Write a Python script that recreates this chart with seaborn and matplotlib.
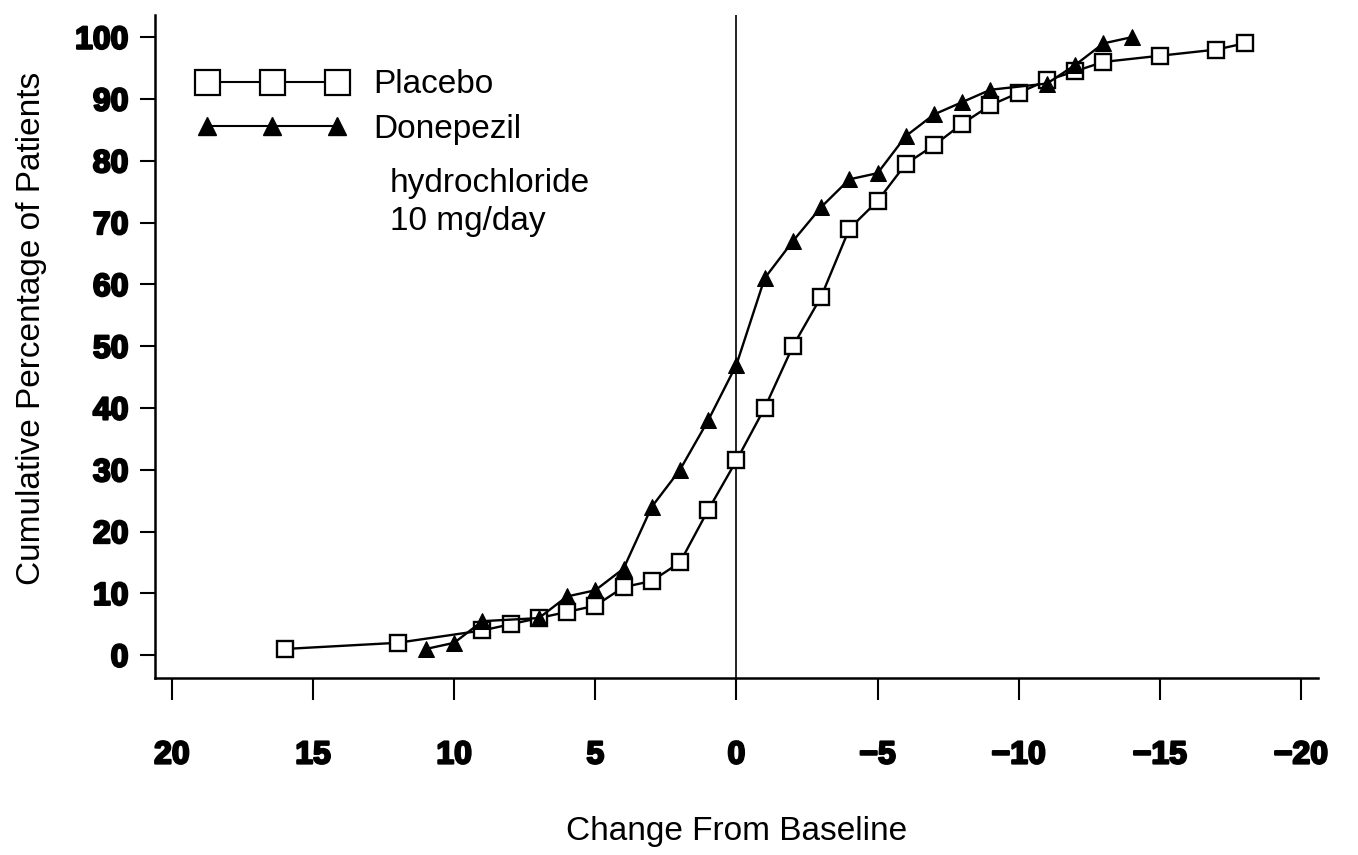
import matplotlib
matplotlib.use('Agg')
import matplotlib.pyplot as plt
import matplotlib.patheffects as pe
from matplotlib.lines import Line2D
import seaborn as sns

# change from baseline (x) and cumulative percentage of patients (y)
placebo_change = [16, 12, 9, 8, 7, 6, 5, 4, 3, 2, 1, 0, -1, -2, -3, -4, -5, -6, -7,
                  -8, -9, -10, -11, -12, -13, -15, -17, -18]
placebo_pct = [1, 2, 4, 5, 6, 7, 8, 11, 12, 15, 23.5, 31.5, 40, 50, 58, 69, 73.5, 79.5,
               82.5, 86, 89, 91, 93, 94.5, 96, 97, 98, 99]

donepezil_change = [11, 10, 9, 7, 6, 5, 4, 3, 2, 1, 0, -1, -2, -3, -4, -5, -6, -7, -8,
                    -9, -11, -12, -13, -14]
donepezil_pct = [1, 2, 5.5, 6, 9.5, 10.5, 14, 24, 30, 38, 47, 61, 67, 72.5, 77, 78, 84,
                 87.5, 89.5, 91.5, 92.5, 95.5, 99, 100]

x_ticks = [20, 15, 10, 5, 0, -5, -10, -15, -20]
y_ticks = [0, 10, 20, 30, 40, 50, 60, 70, 80, 90, 100]

sns.set_style('ticks')
plt.rcParams['font.family'] = ['Liberation Sans', 'DejaVu Sans']
plt.rcParams.update({'text.color': 'black', 'axes.labelcolor': 'black',
                     'xtick.color': 'black', 'ytick.color': 'black',
                     'axes.edgecolor': 'black'})

fig = plt.figure(figsize=(13.58, 8.55), dpi=100)
ax = fig.add_axes([0.1141, 0.207, 0.8564, 0.7755])

# vertical reference line at zero change
ax.axvline(0, color='black', linewidth=1.2, zorder=1)

sns.lineplot(x=placebo_change, y=placebo_pct, ax=ax, color='black', linewidth=1.7,
             marker='s', markersize=12, markerfacecolor='white',
             markeredgecolor='black', markeredgewidth=1.7, zorder=3)
sns.lineplot(x=donepezil_change, y=donepezil_pct, ax=ax, color='black', linewidth=1.7,
             marker='^', markersize=12, markerfacecolor='black',
             markeredgecolor='black', zorder=4)

ax.set_xlim(20.6, -20.6)
ax.set_ylim(-3.7, 103.6)
ax.set_xticks(x_ticks)
ax.set_yticks(y_ticks)
heavy = [pe.withStroke(linewidth=1.6, foreground='black')]
ax.set_xticklabels([str(v).replace('-', '\u2212') for v in x_ticks],
                   fontweight='bold', fontsize=23, path_effects=heavy)
ax.set_yticklabels([str(v) for v in y_ticks],
                   fontweight='bold', fontsize=23, path_effects=heavy)
ax.tick_params(axis='x', length=16, width=1.5, pad=29)
ax.tick_params(axis='y', length=11, width=1.5, pad=8)

sns.despine(ax=ax)
for side in ['left', 'bottom']:
    ax.spines[side].set_linewidth(1.8)

ax.set_xlabel('Change From Baseline', fontsize=24)
ax.set_ylabel('Cumulative Percentage of Patients', fontsize=24)
ax.xaxis.set_label_coords(0.5, -0.232)
ax.xaxis.label.set_va('center')
ax.yaxis.set_label_coords(-0.106, 0.527)
ax.yaxis.label.set_va('center')

handles = [
    Line2D([], [], color='black', linewidth=1.5, marker='s', markersize=18,
           markerfacecolor='white', markeredgecolor='black', markeredgewidth=1.6),
    Line2D([], [], color='black', linewidth=1.5, marker='^', markersize=13,
           markerfacecolor='black', markeredgecolor='black'),
]
ax.legend(handles, ['Placebo', 'Donepezil'], loc='upper left',
          bbox_to_anchor=(0.036, 0.918), frameon=False, fontsize=24,
          numpoints=3, handlelength=4.5, handletextpad=0.8, labelspacing=0.4,
          borderpad=0, borderaxespad=0)
ax.text(0.202, 0.746, 'hydrochloride', transform=ax.transAxes, fontsize=24,
        ha='left', va='center')
ax.text(0.202, 0.688, '10 mg/day', transform=ax.transAxes, fontsize=24,
        ha='left', va='center')

fig.savefig('out.png', dpi=100)
